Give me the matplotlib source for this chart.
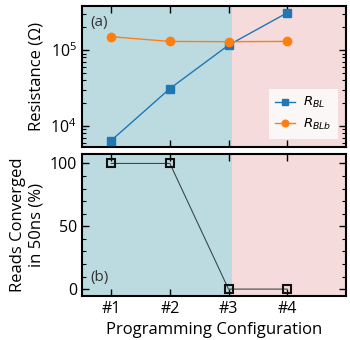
import matplotlib
matplotlib.use("Agg")
import matplotlib.pyplot as plt
from matplotlib.ticker import LogLocator, MultipleLocator, NullFormatter

plt.rcParams['font.family'] = ['Open Sans', 'DejaVu Sans']
plt.rcParams['mathtext.fontset'] = 'dejavusans'

configs = [1, 2, 3, 4]
config_labels = ['#1', '#2', '#3', '#4']
r_bl = [6.4e3, 3.1e4, 1.16e5, 3.1e5]
r_blb = [1.5e5, 1.3e5, 1.29e5, 1.3e5]
converged = [100, 100, 0, 0]

blue_bg = '#bcdbe1'
pink_bg = '#f5dbdb'
split = 3.06

fig = plt.figure(figsize=(3.5, 3.4), dpi=100)
ax1 = fig.add_axes([0.234, 0.5685, 0.754, 0.4135])
ax2 = fig.add_axes([0.234, 0.1294, 0.754, 0.4176])

for ax in (ax1, ax2):
    ax.set_xlim(0.5, 5.0)
    ax.axvspan(0.5, split, color=blue_bg, zorder=0, lw=0)
    ax.axvspan(split, 5.0, color=pink_bg, zorder=0, lw=0)
    ax.set_xticks(configs)
    ax.tick_params(which='both', direction='in', top=True, right=True, labelsize=11.5)
    ax.tick_params(which='major', length=5, width=1)
    ax.tick_params(which='minor', length=3, width=0.8)
    for s in ax.spines.values():
        s.set_linewidth(1.5)

ax1.set_yscale('log')
ax1.set_ylim(5.3e3, 3.8e5)
ax1.plot(configs, r_bl, '-s', color='#1f77b4', lw=1, ms=5.5, label='$R_{BL}$', zorder=3)
ax1.plot(configs, r_blb, '-o', color='#ff7f0e', lw=1, ms=6, label='$R_{BLb}$', zorder=3)
ax1.yaxis.set_minor_locator(LogLocator(base=10, subs=range(2, 10)))
ax1.yaxis.set_minor_formatter(NullFormatter())
ax1.set_xticklabels([])
ax1.set_ylabel('Resistance (Ω)', fontsize=12)
ax1.text(0.65, 2.3e5, '(a)', fontsize=11, color='#333333', va='center')
leg = ax1.legend(loc='lower right', fontsize=9.5, frameon=True, fancybox=False,
                 markerscale=0.8, handlelength=1.5, borderpad=0.5, labelspacing=0.5,
                 handletextpad=0.6, borderaxespad=0.6)
leg.get_frame().set_edgecolor('none')
leg.get_frame().set_facecolor('white')
leg.get_frame().set_alpha(0.8)

ax2.set_ylim(-5.5, 107.5)
ax2.plot(configs, converged, '-s', color='#3a4a4a', lw=0.8, ms=6, mfc='none',
         mec='#111111', mew=1.5, zorder=3)
ax2.set_yticks([0, 50, 100])
ax2.yaxis.set_minor_locator(MultipleLocator(10))
ax2.set_xticklabels(config_labels)
ax2.set_ylabel('Reads Converged\nin 50ns (%)', fontsize=12)
ax2.set_xlabel('Programming Configuration', fontsize=12)
ax2.text(0.65, 9, '(b)', fontsize=11, color='#333333', va='center')

fig.savefig('out.png', dpi=100)
